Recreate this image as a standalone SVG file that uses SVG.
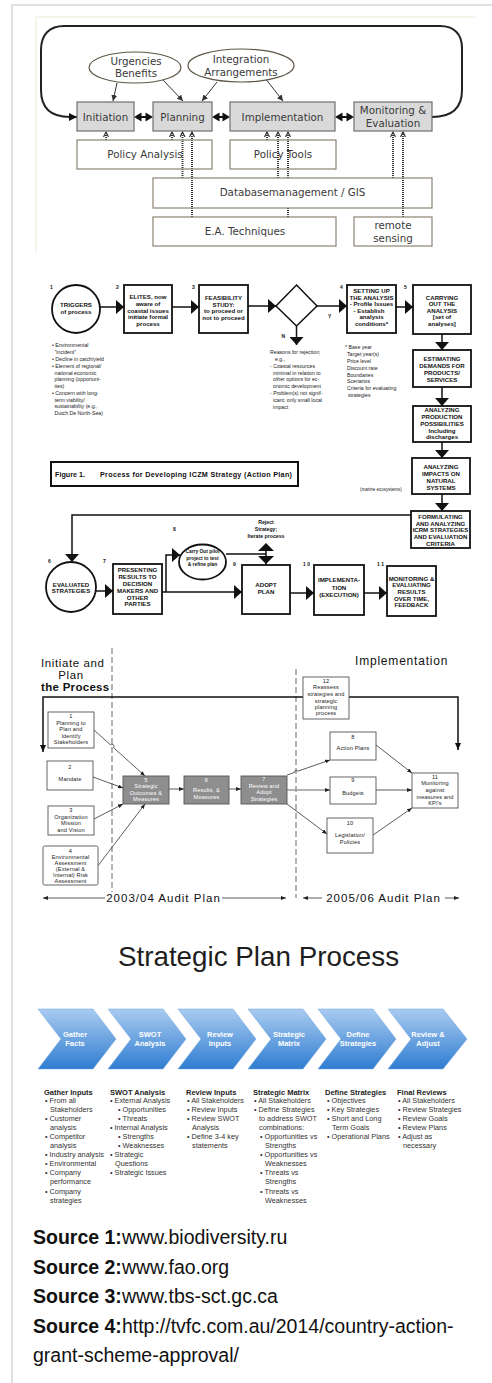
<svg xmlns="http://www.w3.org/2000/svg" width="492" height="1383" viewBox="0 0 492 1383">
<style>
.t1{font-family:"DejaVu Sans",Verdana,sans-serif;font-size:10.3px;fill:#3a3a3a;text-anchor:middle}
.b1{fill:#d9d9d9;stroke:#6f6f6f;stroke-width:1.2}
.w1{fill:none;stroke:#8c8472;stroke-width:1.2}
.e1{fill:#fff;stroke:#5e5646;stroke-width:1.2}
.a1{stroke:#333;stroke-width:1;fill:none;marker-end:url(#mA)}
.h1{stroke:#333;stroke-width:2;stroke-dasharray:1 1;fill:none;marker-end:url(#mH)}
.k2{fill:#fff;stroke:#111;stroke-width:1.8}
.t2{font-family:"Liberation Sans",Arial,sans-serif;font-weight:bold;font-size:6.1px;fill:#111;text-anchor:middle}
.n2{font-family:"Liberation Sans",Arial,sans-serif;font-weight:bold;font-size:5px;fill:#111}
.s2{font-family:"Liberation Sans",Arial,sans-serif;font-size:5.2px;fill:#222}
.c2{stroke:#111;stroke-width:1.5;fill:none}
.c2a{stroke:#111;stroke-width:1.5;fill:none;marker-end:url(#mB)}
.k3{fill:#fff;stroke:#555;stroke-width:0.9}
.g3{fill:#8e8e8e;stroke:#555;stroke-width:0.9}
.t3{font-family:"Liberation Sans",Arial,sans-serif;font-size:5.6px;fill:#222;text-anchor:middle;letter-spacing:0.15px}
.w3{font-family:"Liberation Sans",Arial,sans-serif;font-size:5.6px;fill:#fff;text-anchor:middle;letter-spacing:0.15px}
.c3{stroke:#333;stroke-width:0.8;fill:none;marker-end:url(#mS)}
.L3{font-family:"Liberation Sans",Arial,sans-serif;font-size:11.5px;fill:#111;letter-spacing:0.6px}
.dash{stroke:#666;stroke-width:1;stroke-dasharray:6 3;fill:none}
.chev{fill:url(#gc);stroke:#6fa3dc;stroke-width:0.5}
.ct{font-family:"Liberation Sans",Arial,sans-serif;font-weight:bold;font-size:7.5px;fill:#fff;text-anchor:middle}
.ch{font-family:"Liberation Sans",Arial,sans-serif;font-weight:bold;font-size:7.5px;fill:#222}
.cl{font-family:"Liberation Sans",Arial,sans-serif;font-size:7.3px;fill:#333}
.src{font-family:"Liberation Sans",Arial,sans-serif;font-size:19.5px;fill:#111}
</style>
<defs>
<marker id="mA" viewBox="0 0 6 6" refX="6" refY="3" markerWidth="6" markerHeight="6" orient="auto" markerUnits="userSpaceOnUse"><path d="M0,0 L6,3 L0,6 z" fill="#333"/></marker>
<marker id="mL" viewBox="0 0 8 8" refX="8" refY="4" markerWidth="8" markerHeight="8" orient="auto" markerUnits="userSpaceOnUse"><path d="M0,0 L8,4 L0,8 z" fill="#111"/></marker>
<marker id="mH" viewBox="0 0 6 6" refX="5" refY="3" markerWidth="6" markerHeight="6" orient="auto" markerUnits="userSpaceOnUse"><path d="M0,0.5 L5,3 L0,5.5" fill="none" stroke="#333" stroke-width="1.2"/></marker>
<marker id="mB" viewBox="0 0 8 14" refX="8" refY="7" markerWidth="8" markerHeight="14" orient="auto" markerUnits="userSpaceOnUse"><path d="M0,0 L8,7 L0,14 z" fill="#111"/></marker>
<marker id="mS" viewBox="0 0 5 4" refX="5" refY="2" markerWidth="5" markerHeight="4" orient="auto" markerUnits="userSpaceOnUse"><path d="M0,0 L5,2 L0,4 z" fill="#222"/></marker>
<marker id="mT" viewBox="0 0 7 6" refX="7" refY="3" markerWidth="7" markerHeight="6" orient="auto" markerUnits="userSpaceOnUse"><path d="M0,0 L7,3 L0,6 z" fill="#111"/></marker>
<linearGradient id="gc" x1="0" y1="0" x2="0" y2="1"><stop offset="0" stop-color="#a9cbf0"/><stop offset="1" stop-color="#2f7dd1"/></linearGradient>
</defs>
<rect width="492" height="1383" fill="#fff"/>
<path d="M492,5 H12 V1383" fill="none" stroke="#d6d6d6" stroke-width="1.5"/>

<!-- ===== Diagram 1 ===== -->
<g id="diagram1">
<path d="M475,17 H36 V252" fill="none" stroke="#eee8d2" stroke-width="1"/>
<g id="d1-connectors">
<path d="M432,117 C452,117 462,108 462,90 L462,48 C462,34 454,26 440,26 L64,26 C50,26 41,34 41,50 L41,90 C41,108 50,117 70,117 L77,117" fill="none" stroke="#222" stroke-width="2" marker-end="url(#mL)"/>
<g fill="#111">
<polygon points="134,117 141.5,112.5 141.5,121.5"/><polygon points="153,117 145.5,112.5 145.5,121.5"/><rect x="141" y="116" width="5" height="2"/>
<polygon points="212,117 219.5,112.5 219.5,121.5"/><polygon points="230,117 222.5,112.5 222.5,121.5"/><rect x="219" y="116" width="4" height="2"/>
<polygon points="335,117 342.5,112.5 342.5,121.5"/><polygon points="354,117 346.5,112.5 346.5,121.5"/><rect x="342" y="116" width="5" height="2"/>
</g>
<path class="a1" d="M117,83 L113,101"/>
<path class="a1" d="M163,80 L183,101"/>
<path class="a1" d="M217,82 L202,101"/>
<path class="a1" d="M265,78 L283,101"/>
<path class="h1" d="M106,140 V132"/>
<path class="h1" d="M172,140 V132"/>
<path class="h1" d="M182.5,178 V132"/>
<path class="h1" d="M192,217 V132"/>
<path class="h1" d="M267,140 V132"/>
<path class="h1" d="M278,178 V132"/>
<path class="h1" d="M288,178 V132"/>
<path d="M288,217 V208" stroke="#333" stroke-width="2" stroke-dasharray="1 1"/>
<path class="h1" d="M393,178 V132"/>
<path class="h1" d="M403,217 V132"/>
</g>
<g id="n-urgencies"><ellipse class="e1" cx="135" cy="67.5" rx="46" ry="15.5"/><text class="t1" x="136" y="64.5">Urgencies</text><text class="t1" x="136" y="77">Benefits</text></g>
<g id="n-integration"><ellipse class="e1" cx="241" cy="65.5" rx="53" ry="16.5"/><text class="t1" x="241" y="63">Integration</text><text class="t1" x="241" y="76">Arrangements</text></g>
<g id="n-initiation"><rect class="b1" x="77" y="102" width="57" height="29"/><text class="t1" x="105.5" y="120.5">Initiation</text></g>
<g id="n-planning"><rect class="b1" x="153" y="102" width="59" height="29"/><text class="t1" x="182.5" y="120.5">Planning</text></g>
<g id="n-implementation"><rect class="b1" x="230" y="102" width="105" height="29"/><text class="t1" x="282.5" y="120.5">Implementation</text></g>
<g id="n-monitoring"><rect class="b1" x="354" y="102" width="78" height="29"/><text class="t1" x="393" y="114">Monitoring &amp;</text><text class="t1" x="393" y="127">Evaluation</text></g>
<g id="n-policyanalysis"><rect class="w1" x="77" y="140" width="135" height="29"/><text class="t1" x="145" y="158">Policy Analysis</text></g>
<g id="n-policytools"><rect class="w1" x="230" y="140" width="106" height="29"/><text class="t1" x="283" y="158">Policy Tools</text></g>
<g id="n-db"><rect class="w1" x="153" y="178" width="279" height="30"/><text class="t1" x="292.5" y="196">Databasemanagement / GIS</text></g>
<g id="n-ea"><rect class="w1" x="153" y="217" width="183" height="29"/><text class="t1" x="245" y="234.5">E.A. Techniques</text></g>
<g id="n-remote"><rect class="w1" x="354" y="217" width="78" height="29"/><text class="t1" x="393" y="229">remote</text><text class="t1" x="393" y="242">sensing</text></g>
</g>

<!-- ===== Diagram 2 ===== -->
<g id="diagram2">
<g id="d2-connectors">
<path class="c2a" d="M100,307 H124"/>
<path class="c2a" d="M172,307 H199"/>
<path class="c2a" d="M248,306 H276"/>
<path class="c2a" d="M317,306 H347"/>
<path class="c2a" d="M396,307 H413"/>
<path class="c2a" d="M296.5,326 V345"/>
<path class="c2a" d="M442,334 V350"/>
<path class="c2a" d="M442,387 V406"/>
<path class="c2a" d="M442,442 V458"/>
<path class="c2a" d="M442,494 V511"/>
<path class="c2a" d="M411,515 H72 V562"/>
<path class="c2a" d="M96,591 H113"/>
<path class="c2a" d="M162,592 H242"/>
<path class="c2a" d="M166,592 V555 H180"/>
<path class="c2" d="M226,554 H266 M266,548 V565"/>
<polygon points="266,543 258,551 274,551" fill="#111"/>
<polygon points="266,564 258,556 274,556" fill="#111"/>
<path class="c2a" d="M290,593 H314"/>
<path class="c2a" d="M364,593 H387"/>
</g>
<g id="n2-1"><circle cx="76" cy="309" r="24" fill="#fff" stroke="#111" stroke-width="1.8"/><text class="n2" x="50" y="289">1</text><text class="t2" x="76" y="306.5">TRIGGERS</text><text class="t2" x="76" y="313.5">of process</text></g>
<g id="n2-1list" class="s2">
<text x="52" y="347">• Environmental</text><text x="54.5" y="354">"incident"</text>
<text x="52" y="361">• Decline in catch/yield</text>
<text x="52" y="368">• Element of regional/</text><text x="54.5" y="374.5">national economic</text><text x="54.5" y="381">planning (opportuni-</text><text x="54.5" y="388">ties)</text>
<text x="52" y="395">• Concern with long-</text><text x="54.5" y="401.5">term viability/</text><text x="54.5" y="408">sustainability (e.g.,</text><text x="54.5" y="415">Dutch De North-Sea)</text>
</g>
<g id="n2-2"><rect class="k2" x="124" y="285" width="48" height="48"/><text class="n2" x="116" y="289">2</text><text class="t2" x="148" y="298.5">ELITES, now</text><text class="t2" x="148" y="305.5">aware of</text><text class="t2" x="148" y="312.5">coastal issues</text><text class="t2" x="148" y="319">initiate formal</text><text class="t2" x="148" y="325.5">process</text></g>
<g id="n2-3"><rect class="k2" x="199" y="285" width="49" height="48"/><text class="n2" x="192" y="289">3</text><text class="t2" x="223.5" y="299.5">FEASIBILITY</text><text class="t2" x="223.5" y="306.5">STUDY:</text><text class="t2" x="223.5" y="313">to proceed or</text><text class="t2" x="223.5" y="319.5">not to proceed</text></g>
<g id="n2-dec"><polygon points="296.5,285 317,306 296.5,326 276,306" fill="#fff" stroke="#111" stroke-width="1.5"/><text class="n2" x="328" y="317.5">Y</text><text class="n2" x="281.5" y="337.5">N</text></g>
<g id="n2-rej" class="s2">
<text x="270" y="354">Reasons for  rejection;</text><text x="275" y="360.5">e.g.,</text>
<text x="270" y="367.5">- Coastal resources</text><text x="273" y="374.5">minimal in relation to</text><text x="273" y="381">other options for ec-</text><text x="273" y="388">onomic development</text>
<text x="270" y="395">- Problem(s) not signif-</text><text x="273" y="401.5">icant; only small local</text><text x="273" y="408.5">impact</text>
</g>
<g id="n2-4"><rect class="k2" x="347" y="285" width="49" height="48"/><text class="n2" x="340" y="289">4</text><text class="t2" x="371.5" y="293">SETTING UP</text><text class="t2" x="371.5" y="299.5">THE ANALYSIS</text><text class="t2" x="371.5" y="306">- Profile Issues</text><text class="t2" x="369" y="312.5">- Establish</text><text class="t2" x="371.5" y="319">analysis</text><text class="t2" x="371.5" y="325.5">conditions*</text></g>
<g id="n2-4list" class="s2">
<text x="345" y="349">* Base year</text><text x="347" y="356">Target year(s)</text><text x="347" y="363">Price level</text><text x="347" y="370">Discount rate</text><text x="347" y="376.5">Boundaries</text><text x="347" y="383">Scenarios</text><text x="347" y="390">Criteria for evaluating</text><text x="348" y="397">strategies</text>
</g>
<g id="n2-5"><rect class="k2" x="413" y="285" width="58" height="49"/><text class="n2" x="404" y="289">5</text><text class="t2" x="442" y="299.5">CARRYING</text><text class="t2" x="442" y="306">OUT THE</text><text class="t2" x="442" y="312.5">ANALYSIS</text><text class="t2" x="442" y="319">[set of</text><text class="t2" x="442" y="325.5">analyses]</text></g>
<g id="n2-est"><rect class="k2" x="413" y="350" width="58" height="37"/><text class="t2" x="442" y="360.5">ESTIMATING</text><text class="t2" x="442" y="368">DEMANDS FOR</text><text class="t2" x="442" y="374.5">PRODUCTS/</text><text class="t2" x="442" y="381.5">SERVICES</text></g>
<g id="n2-prod"><rect class="k2" x="413" y="406" width="58" height="36"/><text class="t2" x="442" y="411.5">ANALYZING</text><text class="t2" x="442" y="419">PRODUCTION</text><text class="t2" x="442" y="425.5">POSSIBILITIES</text><text class="t2" x="442" y="433">Including</text><text class="t2" x="442" y="439">discharges</text></g>
<g id="n2-imp"><rect class="k2" x="412" y="458" width="58" height="36"/><text class="t2" x="441" y="469">ANALYZING</text><text class="t2" x="441" y="476">IMPACTS ON</text><text class="t2" x="441" y="483">NATURAL</text><text class="t2" x="441" y="489.5">SYSTEMS</text><text class="s2" x="360" y="491" style="font-size:4.5px">(marine ecosystems)</text></g>
<g id="n2-form"><rect class="k2" x="411" y="511" width="59" height="37"/><text class="t2" x="440.5" y="519">FORMULATING</text><text class="t2" x="440.5" y="525.5">AND ANALYZING</text><text class="t2" x="440.5" y="532">ICRM STRATEGIES</text><text class="t2" x="440.5" y="539">AND EVALUATION</text><text class="t2" x="440.5" y="546">CRITERIA</text></g>
<g id="n2-caption"><rect x="51" y="462" width="247" height="24" fill="#fff" stroke="#111" stroke-width="2"/><text class="t2" x="55" y="477" style="text-anchor:start;font-size:7.2px">Figure 1.</text><text class="t2" x="100" y="477" style="text-anchor:start;font-size:7.2px" textLength="192">Process for Developing ICZM Strategy (Action Plan)</text></g>
<g id="n2-6"><circle cx="71" cy="587" r="25" fill="#fff" stroke="#111" stroke-width="1.8"/><text class="n2" x="48" y="563">6</text><text class="t2" x="71" y="586.5">EVALUATED</text><text class="t2" x="71" y="593">STRATEGIES</text></g>
<g id="n2-7"><rect class="k2" x="113" y="564" width="49" height="50"/><text class="n2" x="103" y="563">7</text><text class="t2" x="137.5" y="572">PRESENTING</text><text class="t2" x="137.5" y="579">RESULTS TO</text><text class="t2" x="137.5" y="585.5">DECISION</text><text class="t2" x="137.5" y="593">MAKERS AND</text><text class="t2" x="137.5" y="599.5">OTHER</text><text class="t2" x="137.5" y="606">PARTIES</text></g>
<g id="n2-8"><ellipse cx="202.5" cy="562" rx="23.5" ry="17.5" fill="#fff" stroke="#111" stroke-width="1.8"/><text class="n2" x="173" y="531">8</text><text class="t2" x="202.5" y="553" style="font-size:4.9px">Carry Out pilot</text><text class="t2" x="202.5" y="559.5" style="font-size:4.9px">project to test</text><text class="t2" x="202.5" y="566" style="font-size:4.9px">&amp; refine plan</text></g>
<g id="n2-reject"><text class="t2" x="266" y="523.5" style="font-size:5.2px">Reject</text><text class="t2" x="266" y="531" style="font-size:5.2px">Strategy;</text><text class="t2" x="266" y="538" style="font-size:5.2px">Iterate process</text></g>
<g id="n2-9"><rect class="k2" x="242" y="565" width="48" height="49"/><text class="n2" x="233" y="566">9</text><text class="t2" x="266" y="587">ADOPT</text><text class="t2" x="266" y="594">PLAN</text></g>
<g id="n2-10"><rect class="k2" x="314" y="565" width="50" height="50"/><text class="n2" x="303" y="566">1 0</text><text class="t2" x="339" y="582">IMPLEMENTA-</text><text class="t2" x="339" y="589.5">TION</text><text class="t2" x="339" y="597">(EXECUTION)</text></g>
<g id="n2-11"><rect class="k2" x="387" y="566" width="49" height="50"/><text class="n2" x="377" y="566">1 1</text><text class="t2" x="411.5" y="580.5">MONITORING &amp;</text><text class="t2" x="411.5" y="587">EVALUATING</text><text class="t2" x="411.5" y="594">RESULTS</text><text class="t2" x="411.5" y="600.5">OVER TIME,</text><text class="t2" x="411.5" y="607">FEEDBACK</text></g>
</g>

<!-- ===== Diagram 3 ===== -->
<g id="diagram3">
<g id="d3-labels">
<text class="L3" x="41" y="667">Initiate and</text>
<text class="L3" x="71" y="679" text-anchor="middle">Plan</text>
<text class="L3" x="41" y="691" style="font-weight:bold;letter-spacing:0.3px">the Process</text>
<text class="L3" x="355" y="665" style="font-size:12px;letter-spacing:0.8px">Implementation</text>
</g>
<path class="dash" d="M112,648 V892"/>
<path class="dash" d="M296,669 V898"/>
<g id="d3-connectors">
<path d="M303,697 H43 V752" fill="none" stroke="#111" stroke-width="1.5" marker-end="url(#mT)"/>
<path d="M349,697 H458 V750" fill="none" stroke="#111" stroke-width="1.5" marker-end="url(#mT)"/>
<path class="c3" d="M94,730 L110.5,744.9 A1.8,1.8 0 0 1 113.5,747.6 L145,776"/>
<path class="c3" d="M93,777 L123,788"/>
<path class="c3" d="M94,819 L123,804"/>
<path class="c3" d="M97,867 L145,804"/>
<path class="c3" d="M169,789 H184"/>
<path class="c3" d="M229,789 H241"/>
<path class="c3" d="M287,775 L294.5,772.4 A1.8,1.8 0 0 1 297.8,771.2 L330,760"/>
<path d="M287,790 H330" stroke="#9a9a9a" stroke-width="1.4" fill="none" marker-end="url(#mS)"/>
<path class="c3" d="M287,804 L327,834"/>
<path class="c3" d="M376,745 L412,773"/>
<path class="c3" d="M376,790 H412"/>
<path class="c3" d="M373,835 L412,808"/>
<path class="c3" d="M105,898 H43"/>
<path class="c3" d="M222,898 H286"/>
<path class="c3" d="M322,898 H303"/>
<path class="c3" d="M445,898 H459"/>
</g>
<text class="L3" x="163.5" y="902" text-anchor="middle" style="letter-spacing:1px">2003/04 Audit Plan</text>
<text class="L3" x="383.5" y="902" text-anchor="middle" style="letter-spacing:1px">2005/06 Audit Plan</text>
<g id="n3-12"><rect class="k3" x="303" y="677" width="46" height="42"/><text class="t3" x="326" y="682.5">12</text><text class="t3" x="326" y="689">Reassess</text><text class="t3" x="326" y="696">strategies and</text><text class="t3" x="326" y="703">strategic</text><text class="t3" x="326" y="709">planning</text><text class="t3" x="326" y="715">process</text></g>
<g id="n3-1"><rect class="k3" x="48" y="712" width="46" height="36"/><text class="t3" x="71" y="718">1</text><text class="t3" x="71" y="724.7">Planning to</text><text class="t3" x="71" y="731.3">Plan and</text><text class="t3" x="71" y="737.7">Identify</text><text class="t3" x="71" y="744.3">Stakeholders</text></g>
<g id="n3-2"><rect class="k3" x="47" y="761" width="46" height="29"/><text class="t3" x="70" y="769">2</text><text class="t3" x="70" y="781">Mandate</text></g>
<g id="n3-3"><rect class="k3" x="48" y="806" width="46" height="29"/><text class="t3" x="71" y="812">3</text><text class="t3" x="71" y="819">Organization</text><text class="t3" x="71" y="825">Mission</text><text class="t3" x="71" y="832">and Vision</text></g>
<g id="n3-4"><rect class="k3" x="43" y="846" width="55" height="39" rx="1.5"/><text class="t3" x="70.5" y="853">4</text><text class="t3" x="70.5" y="859">Environmental</text><text class="t3" x="70.5" y="865">Assessment</text><text class="t3" x="70.5" y="871">(External &amp;</text><text class="t3" x="70.5" y="877">Internal) Risk</text><text class="t3" x="70.5" y="883">Assessment</text></g>
<g id="n3-5"><rect class="g3" x="123" y="776" width="46" height="28"/><text class="w3" x="146" y="782">5</text><text class="w3" x="146" y="788">Strategic</text><text class="w3" x="146" y="795">Outcomes &amp;</text><text class="w3" x="146" y="801">Measures</text></g>
<g id="n3-6"><rect class="g3" x="184" y="776" width="45" height="28"/><text class="w3" x="206.5" y="782">6</text><text class="w3" x="206.5" y="792">Results, &amp;</text><text class="w3" x="206.5" y="799">Measures</text></g>
<g id="n3-7"><rect class="g3" x="241" y="776" width="46" height="28"/><text class="w3" x="264" y="781">7</text><text class="w3" x="264" y="788">Review and</text><text class="w3" x="264" y="794">Adopt</text><text class="w3" x="264" y="801">Strategies</text></g>
<g id="n3-8"><rect class="k3" x="330" y="732" width="46" height="28"/><text class="t3" x="353" y="739">8</text><text class="t3" x="353" y="750">Action Plans</text></g>
<g id="n3-9"><rect class="k3" x="330" y="777" width="46" height="27"/><text class="t3" x="353" y="782">9</text><text class="t3" x="353" y="795">Budgets</text></g>
<g id="n3-10"><rect class="k3" x="327" y="818" width="46" height="35"/><text class="t3" x="350" y="825">10</text><text class="t3" x="350" y="837">Legislation/</text><text class="t3" x="350" y="844">Policies</text></g>
<g id="n3-11"><rect class="k3" x="412" y="773" width="46" height="35"/><text class="t3" x="435" y="779">11</text><text class="t3" x="435" y="785">Monitoring</text><text class="t3" x="435" y="792">against</text><text class="t3" x="435" y="799">measures and</text><text class="t3" x="435" y="804.5">KPI's</text></g>
</g>

<!-- ===== Diagram 4 ===== -->
<g id="diagram4">
<text x="258.5" y="966" text-anchor="middle" style="font-family:'Liberation Sans',Arial,sans-serif;font-size:27.8px;fill:#1e1e1e">Strategic Plan Process</text>
<g id="n4-c1"><polygon class="chev" points="38,1009 93,1009 116,1039 93,1069 38,1069 61,1039"/><text class="ct" x="75" y="1037.3">Gather</text><text class="ct" x="75" y="1046">Facts</text></g>
<g id="n4-c2"><polygon class="chev" points="108,1009 163,1009 186,1039 163,1069 108,1069 131,1039"/><text class="ct" x="150" y="1037.3">SWOT</text><text class="ct" x="150" y="1046">Analysis</text></g>
<g id="n4-c3"><polygon class="chev" points="178,1009 233,1009 256,1039 233,1069 178,1069 201,1039"/><text class="ct" x="220" y="1037.3">Review</text><text class="ct" x="220" y="1046">Inputs</text></g>
<g id="n4-c4"><polygon class="chev" points="248,1009 303,1009 326,1039 303,1069 248,1069 271,1039"/><text class="ct" x="289" y="1037.3">Strategic</text><text class="ct" x="289" y="1046">Matrix</text></g>
<g id="n4-c5"><polygon class="chev" points="318,1009 373,1009 396,1039 373,1069 318,1069 341,1039"/><text class="ct" x="358" y="1037.3">Define</text><text class="ct" x="358" y="1046">Strategies</text></g>
<g id="n4-c6"><polygon class="chev" points="388,1009 443,1009 467,1039 443,1069 388,1069 411,1039"/><text class="ct" x="428" y="1037.3">Review &amp;</text><text class="ct" x="428" y="1046">Adjust</text></g>
<g id="n4-l1" class="cl">
<text class="ch" x="44" y="1094.5">Gather Inputs</text>
<text x="45" y="1102.5">• From all</text><text x="50" y="1111.6">Stakeholders</text>
<text x="45" y="1120.7">• Customer</text><text x="50" y="1129.8">analysis</text>
<text x="45" y="1138.9">• Competitor</text><text x="50" y="1148">analysis</text>
<text x="45" y="1157.1">• Industry analysis</text>
<text x="45" y="1166.2">• Environmental</text>
<text x="45" y="1175.3">• Company</text><text x="50" y="1184.4">performance</text>
<text x="45" y="1193.5">• Company</text><text x="50" y="1202.6">strategies</text>
</g>
<g id="n4-l2" class="cl">
<text class="ch" x="110" y="1094.5">SWOT Analysis</text>
<text x="110" y="1102.5">• External Analysis</text>
<text x="118" y="1111.6">• Opportunities</text>
<text x="118" y="1120.7">• Threats</text>
<text x="110" y="1129.8">• Internal Analysis</text>
<text x="118" y="1138.9">• Strengths</text>
<text x="118" y="1148">• Weaknesses</text>
<text x="110" y="1157.1">• Strategic</text><text x="115" y="1166.2">Questions</text>
<text x="110" y="1175.3">• Strategic Issues</text>
</g>
<g id="n4-l3" class="cl">
<text class="ch" x="186" y="1094.5">Review Inputs</text>
<text x="187" y="1102.5">• All Stakeholders</text>
<text x="187" y="1111.6">• Review Inputs</text>
<text x="187" y="1120.7">• Review SWOT</text><text x="192" y="1129.8">Analysis</text>
<text x="187" y="1138.9">• Define 3-4 key</text><text x="192" y="1148">statements</text>
</g>
<g id="n4-l4" class="cl">
<text class="ch" x="253" y="1094.5">Strategic Matrix</text>
<text x="254" y="1102.5">• All Stakeholders</text>
<text x="254" y="1111.6">• Define Strategies</text><text x="259" y="1120.7">to address SWOT</text><text x="259" y="1129.8">combinations:</text>
<text x="260" y="1138.9">• Opportunities vs</text><text x="265" y="1148">Strengths</text>
<text x="260" y="1157.1">• Opportunities vs</text><text x="265" y="1166.2">Weaknesses</text>
<text x="260" y="1175.3">• Threats vs</text><text x="265" y="1184.4">Strengths</text>
<text x="260" y="1193.5">• Threats vs</text><text x="265" y="1202.6">Weaknesses</text>
</g>
<g id="n4-l5" class="cl">
<text class="ch" x="325" y="1094.5">Define Strategies</text>
<text x="327" y="1102.5">• Objectives</text>
<text x="327" y="1111.6">• Key Strategies</text>
<text x="327" y="1120.7">• Short and Long</text><text x="332" y="1129.8">Term Goals</text>
<text x="327" y="1138.9">• Operational Plans</text>
</g>
<g id="n4-l6" class="cl">
<text class="ch" x="397" y="1094.5">Final Reviews</text>
<text x="398" y="1102.5">• All Stakeholders</text>
<text x="398" y="1111.6">• Review Strategies</text>
<text x="398" y="1120.7">• Review Goals</text>
<text x="398" y="1129.8">• Review Plans</text>
<text x="398" y="1138.9">• Adjust as</text><text x="403" y="1148">necessary</text>
</g>
</g>

<!-- ===== Sources ===== -->
<g id="sources" class="src">
<text x="33" y="1244"><tspan font-weight="bold">Source 1:</tspan>www.biodiversity.ru</text>
<text x="33" y="1273.5"><tspan font-weight="bold">Source 2:</tspan>www.fao.org</text>
<text x="33" y="1303"><tspan font-weight="bold">Source 3:</tspan>www.tbs-sct.gc.ca</text>
<text x="33" y="1332.5"><tspan font-weight="bold">Source 4:</tspan>http://tvfc.com.au/2014/country-action-</text>
<text x="33" y="1362">grant-scheme-approval/</text>
</g>
</svg>
